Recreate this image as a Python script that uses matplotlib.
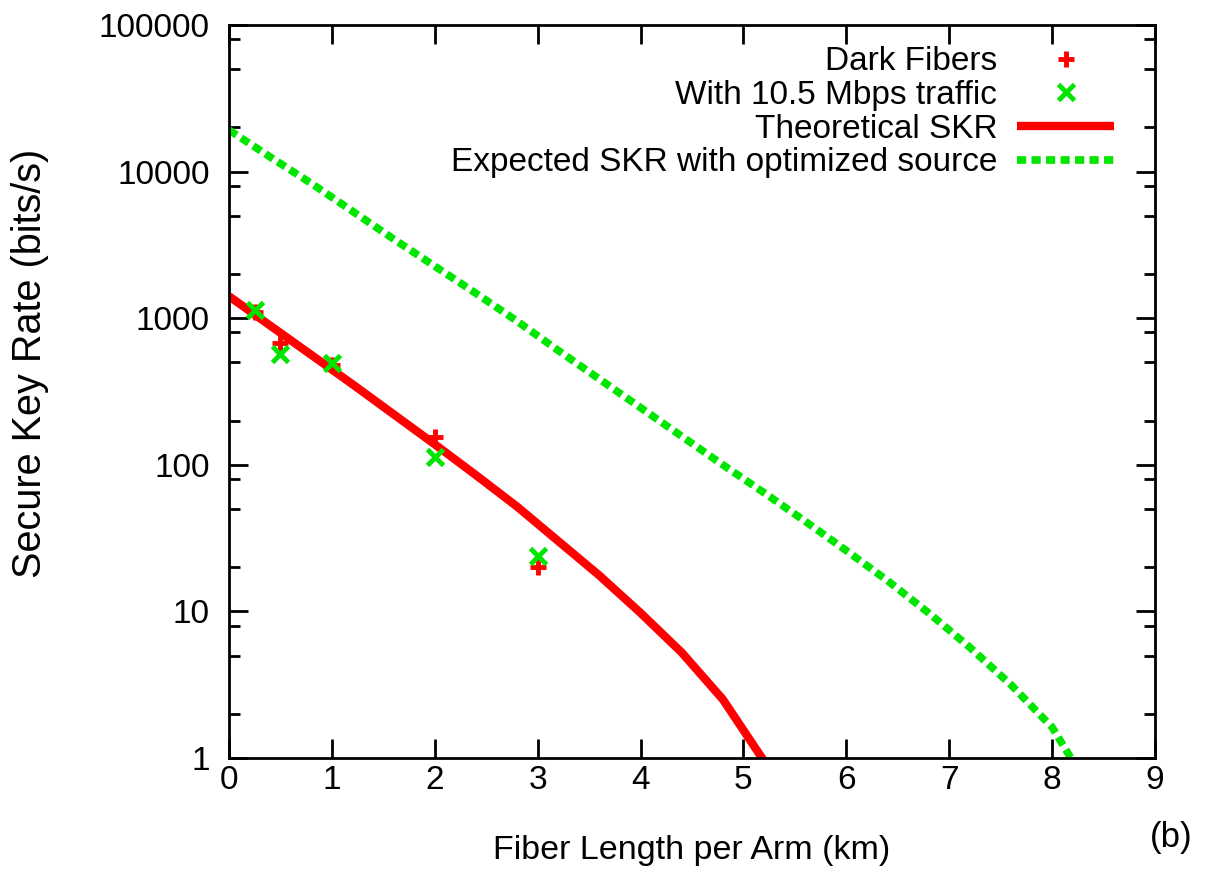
import numpy as np
import matplotlib
matplotlib.use("Agg")
import matplotlib.pyplot as plt
from matplotlib.ticker import LogLocator, FixedLocator, NullFormatter

plt.rcParams['font.family'] = ['Liberation Sans', 'DejaVu Sans']

# Measured points
x_pts = [0.25, 0.5, 1.0, 2.0, 3.0]
dark_fibers = [1100, 677, 480, 155, 20.1]
traffic = [1138, 570, 495, 113, 23.9]

# Theoretical SKR curve
x_theory = [0.0, 0.4, 0.8, 1.2, 1.6, 2.0, 2.4, 2.8, 3.2, 3.6, 4.0, 4.4, 4.8, 5.2]
log_theory = [3.15, 2.95, 2.75, 2.55, 2.345, 2.14, 1.93, 1.715, 1.48, 1.245, 0.99, 0.72, 0.40, -0.02]
y_theory = [10 ** v for v in log_theory]

# Expected SKR with optimized source
x_opt = [0.0, 0.4, 0.8, 1.2, 1.6, 2.0, 2.4, 2.8, 3.2, 3.6, 4.0, 4.4, 4.8, 5.2, 5.6,
         6.0, 6.4, 6.8, 7.2, 7.6, 8.0, 8.4]
log_opt = [4.284, 4.10, 3.92, 3.73, 3.54, 3.355, 3.17, 2.98, 2.78, 2.585, 2.39, 2.195,
           2.0, 1.81, 1.615, 1.415, 1.21, 0.99, 0.755, 0.50, 0.21, -0.25]
y_opt = [10 ** v for v in log_opt]

x_ticks = [0, 1, 2, 3, 4, 5, 6, 7, 8, 9]
y_ticks = [1, 10, 100, 1000, 10000, 100000]
y_ticklabels = ['1', '10', '100', '1000', '10000', '100000']

fig = plt.figure(figsize=(12.07, 8.69), dpi=100)
ax = fig.add_axes([0.1897, 0.1277, 0.9569 - 0.1897, 0.9712 - 0.1277])

red = '#ff0000'
green = '#00e600'

ax.plot(x_pts, dark_fibers, linestyle='none', marker='+', markersize=12,
        markeredgewidth=3.5, color=red, label='Dark Fibers', zorder=3)
ax.plot(x_pts, traffic, linestyle='none', marker='x', markersize=12,
        markeredgewidth=3.5, color=green, label='With 10.5 Mbps traffic', zorder=3)
ax.plot(x_theory, y_theory, color=red, linewidth=6, label='Theoretical SKR',
        solid_capstyle='butt', zorder=2)
ax.plot(x_opt, y_opt, color=green, linewidth=5.5, linestyle=(0, (1.2, 0.7)),
        label='Expected SKR with optimized source', zorder=2)

ax.set_yscale('log')
ax.set_xlim(0, 9)
ax.set_ylim(1, 100000)
ax.set_xticks(x_ticks)
ax.set_xticklabels([str(t) for t in x_ticks])
ax.yaxis.set_major_locator(FixedLocator(y_ticks))
ax.set_yticklabels(y_ticklabels)
ax.yaxis.set_minor_locator(LogLocator(base=10, subs=[2, 5, 8]))
ax.yaxis.set_minor_formatter(NullFormatter())

ax.tick_params(axis='both', which='major', direction='in', length=14, width=2,
               top=True, right=True, labelsize=24, colors='black')
ax.tick_params(axis='x', which='major', pad=5)
ax.tick_params(axis='y', which='major', pad=14)
ax.tick_params(axis='y', which='minor', direction='in', length=8, width=2,
               right=True, left=True)
for s in ax.spines.values():
    s.set_linewidth(2)

ax.set_xlabel('Fiber Length per Arm (km)', fontsize=24.5, labelpad=28)
ax.set_ylabel('Secure Key Rate (bits/s)', fontsize=28.5, labelpad=36)
ax.yaxis.label.set_y(0.539)

leg = ax.legend(loc='upper right', markerfirst=False, frameon=False, fontsize=24,
                handlelength=2.9, borderaxespad=0, borderpad=0, labelspacing=0.08,
                handletextpad=0.6, bbox_to_anchor=(0.9557, 0.971))
for t in leg.get_texts():
    t.set_ha('right')

fig.text(1193 / 1207, 1 - 838 / 869, '(b)', fontsize=25, ha='right', va='center')

fig.savefig('out.png', dpi=100)
